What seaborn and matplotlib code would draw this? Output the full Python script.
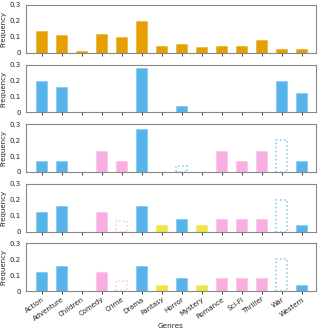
import numpy as np
import pandas as pd
import matplotlib
matplotlib.use("Agg")
import matplotlib.pyplot as plt
import matplotlib.colors as mcolors
import seaborn as sns

# Data
genres = ["Action", "Adventure", "Children", "Comedy", "Crime", "Drama", "Fantasy",
          "Horror", "Mystery", "Romance", "Sci-Fi", "Thriller", "War", "Western"]

overall = [0.135, 0.110, 0.012, 0.118, 0.100, 0.200, 0.042, 0.057, 0.035, 0.042, 0.045, 0.082, 0.022, 0.026]
user_a = [0.20, 0.16, 0, 0, 0, 0.28, 0, 0.04, 0, 0, 0, 0, 0.20, 0.12]
user_b = [0.067, 0.067, 0, 0.133, 0.067, 0.267, 0, 0, 0, 0.133, 0.067, 0.133, 0, 0.067]
user_c = [0.12, 0.16, 0, 0.12, 0, 0.16, 0.04, 0.08, 0.04, 0.08, 0.08, 0.08, 0, 0.04]
user_d = [0.12, 0.16, 0, 0.12, 0, 0.16, 0.04, 0.08, 0.04, 0.08, 0.08, 0.08, 0, 0.04]

# colour group per genre: o=orange, b=blue, p=pink, y=yellow
group_b = ["b", "b", "b", "p", "p", "b", "b", "b", "b", "p", "p", "p", "b", "b"]
group_c = ["b", "b", "b", "p", "p", "b", "y", "b", "y", "p", "p", "p", "b", "b"]

# dotted outline (reference) bars
ghost_b = [0, 0, 0, 0, 0, 0, 0, 0.04, 0, 0, 0, 0, 0.20, 0]
ghost_b_grp = ["b"] * 14
ghost_c = [0, 0, 0, 0, 0.067, 0, 0, 0, 0, 0, 0, 0, 0.20, 0]
ghost_c_grp = ["b", "b", "b", "b", "p", "b", "b", "b", "b", "b", "b", "b", "b", "b"]

palette = {"o": "#E69F00", "b": "#56B4E9", "p": "#F9AEE0", "y": "#F0E442"}

panels = [
    (overall, ["o"] * 14, None, None),
    (user_a, ["b"] * 14, None, None),
    (user_b, group_b, ghost_b, ghost_b_grp),
    (user_c, group_c, ghost_c, ghost_c_grp),
    (user_d, group_c, ghost_c, ghost_c_grp),
]

sns.set_style("white")
plt.rcParams["font.family"] = ["DejaVu Sans"]

fig, axes = plt.subplots(5, 1, figsize=(3.22, 3.32), dpi=100, sharex=True)
fig.subplots_adjust(left=0.08, right=0.981, top=0.985, bottom=0.123, hspace=0.25)

for ax, (vals, grp, ghost, ghost_grp) in zip(axes, panels):
    df = pd.DataFrame({"genre": genres, "freq": vals, "grp": grp})
    sns.barplot(data=df, x="genre", y="freq", hue="grp", palette=palette, saturation=1,
                width=0.56, dodge=False, legend=False, ax=ax, linewidth=0.8)
    for p in ax.patches:
        fc = p.get_facecolor()
        p.set_edgecolor(mcolors.to_rgba(fc, 0.35))
    if ghost is not None:
        for i, (g, gg) in enumerate(zip(ghost, ghost_grp)):
            if g > 0:
                ax.bar(i, g, width=0.56, fill=False,
                       edgecolor=mcolors.to_rgba(palette[gg], 0.75),
                       linestyle=":", linewidth=1.1)
    ax.set_ylim(0, 0.3)
    ax.set_xlim(-0.8, 13.7)
    ax.set_yticks([0, 0.1, 0.2, 0.3])
    ax.set_yticklabels(["0", "0.1", "0.2", "0.3"], fontsize=5)
    ax.set_ylabel("Frequency", fontsize=5, labelpad=2)
    ax.set_xlabel("")
    ax.tick_params(axis="both", length=2, width=0.6, pad=1.5, colors="#222222", bottom=True)
    for s in ax.spines.values():
        s.set_color("#888888")
        s.set_linewidth(0.8)

axes[-1].set_xticks(range(len(genres)))
axes[-1].set_xticklabels(genres, rotation=35, ha="right", rotation_mode="anchor", fontsize=5)
axes[-1].set_xlabel("Genres", fontsize=5.3, labelpad=1)

fig.savefig("out.png", dpi=100)
